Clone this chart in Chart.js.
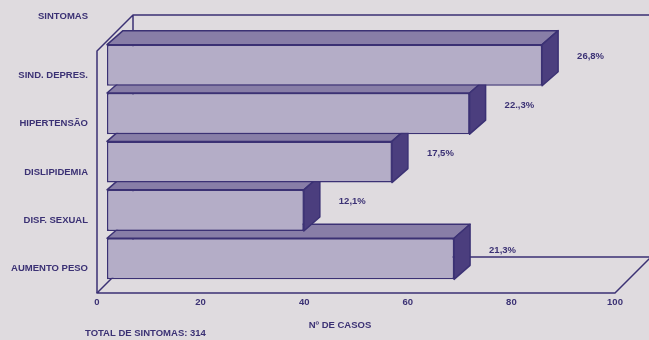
<!DOCTYPE html>
<html>
<head>
<meta charset="utf-8">
<script src="https://cdn.jsdelivr.net/npm/chart.js@4.4.1/dist/chart.umd.min.js"></script>
<style>
  html, body { margin: 0; padding: 0; background: #dfdbdf; }
  #wrap { width: 649px; height: 340px; position: relative; }
</style>
</head>
<body>
<div id="wrap"><canvas id="sintomasChart"></canvas></div>
<script>
const categories = ['SIND. DEPRES.', 'HIPERTENSÃO', 'DISLIPIDEMIA', 'DISF. SEXUAL', 'AUMENTO PESO'];
const casos = [84, 70, 55, 38, 67];
const percentLabels = ['26,8%', '22.,3%', '17,5%', '12,1%', '21,3%'];
const xTicks = [0, 20, 40, 60, 80, 100];

const ink = '#3b3174';
const frontColor = '#b4adc7';
const topColor = '#887ea7';
const sideColor = '#4b3e7e';
const font = { family: "'Liberation Sans', Arial, sans-serif", size: 9.5, weight: 'bold' };

const barDepth = { x: 16, y: -14 };  // how far each bar goes back
const boxDepth = { x: 36, y: -36 };  // how far the floor / walls go back
const boxShift = 10;                 // front of the box sits left of and below the bars

// floor, left wall and back wall outlines, drawn behind the bars
const box3d = {
    id: 'box3d',
    beforeDatasetsDraw(chart) {
        const { ctx, chartArea: a } = chart;
        const x0 = a.left - boxShift, x1 = a.right - boxShift;
        const yb = a.bottom + boxShift, yt = a.top + boxShift;
        const bx0 = x0 + boxDepth.x, bx1 = x1 + boxDepth.x;
        const byb = yb + boxDepth.y, byt = yt + boxDepth.y;

        ctx.save();
        ctx.strokeStyle = ink;
        ctx.lineWidth = 1.5;
        ctx.lineJoin = 'round';

        // left wall + back wall top
        ctx.beginPath();
        ctx.moveTo(x0, yb);
        ctx.lineTo(x0, yt);
        ctx.lineTo(bx0, byt);
        ctx.lineTo(chart.width + 5, byt);
        ctx.moveTo(bx0, byt);
        ctx.lineTo(bx0, byb);
        ctx.stroke();

        // floor
        ctx.beginPath();
        ctx.moveTo(x0, yb);
        ctx.lineTo(x1, yb);
        ctx.lineTo(bx1, byb);
        ctx.lineTo(bx0, byb);
        ctx.closePath();
        ctx.stroke();
        ctx.restore();
    },
    // bars drawn bottom-up so the upper bars cover the top faces of the lower ones
    beforeDatasetDraw(chart, args) {
        const { ctx } = chart;
        const bars = args.meta.data;
        for (let i = bars.length - 1; i >= 0; i--) {
            const bar = bars[i];
            const { x, y, base, height } = bar.getProps(['x', 'y', 'base', 'height'], true);
            const top = y - height / 2, bottom = y + height / 2;

            ctx.save();
            ctx.strokeStyle = ink;
            ctx.lineWidth = 1.5;
            ctx.lineJoin = 'round';

            ctx.beginPath();
            ctx.moveTo(base, top);
            ctx.lineTo(base + barDepth.x, top + barDepth.y);
            ctx.lineTo(x + barDepth.x, top + barDepth.y);
            ctx.lineTo(x, top);
            ctx.closePath();
            ctx.fillStyle = topColor;
            ctx.fill();
            ctx.stroke();

            ctx.beginPath();
            ctx.moveTo(x, top);
            ctx.lineTo(x + barDepth.x, top + barDepth.y);
            ctx.lineTo(x + barDepth.x, bottom + barDepth.y);
            ctx.lineTo(x, bottom);
            ctx.closePath();
            ctx.fillStyle = sideColor;
            ctx.fill();
            ctx.stroke();
            ctx.restore();

            bar.draw(ctx);
        }
        return false;
    },
    afterDatasetsDraw(chart) {
        const { ctx, chartArea: a } = chart;
        const bars = chart.getDatasetMeta(0).data;
        ctx.save();
        ctx.fillStyle = ink;
        ctx.font = `${font.weight} ${font.size}px ${font.family}`;
        ctx.textBaseline = 'middle';

        ctx.textAlign = 'left';
        bars.forEach((bar, i) => {
            const { x, y, height } = bar.getProps(['x', 'y', 'height'], true);
            ctx.fillText(percentLabels[i], x + 35, y - height / 2 + 12);
        });

        ctx.textAlign = 'right';
        ctx.fillText('SINTOMAS', a.left - 19, a.top - 25);

        ctx.textAlign = 'center';
        const x0 = a.left - boxShift, x1 = a.right - boxShift;
        ctx.fillText('Nº DE CASOS', (x0 + x1) / 2 - 16, a.bottom + 42);

        const total = casos.reduce((s, v) => s + v, 0);
        ctx.textAlign = 'left';
        ctx.fillText('TOTAL DE SINTOMAS: ' + total, a.left - 22, a.bottom + 50);
        ctx.restore();
    }
};

new Chart(document.getElementById('sintomasChart'), {
    type: 'bar',
    data: {
        labels: categories,
        datasets: [{
            data: casos,
            backgroundColor: frontColor,
            borderColor: ink,
            borderWidth: 1.5,
            borderSkipped: false,
            barPercentage: 0.85,
            categoryPercentage: 1
        }]
    },
    options: {
        indexAxis: 'y',
        responsive: true,
        maintainAspectRatio: false,
        animation: false,
        layout: { padding: { top: 41, right: 24, left: 0, bottom: 0 } },
        plugins: {
            legend: { display: false },
            tooltip: { enabled: false }
        },
        scales: {
            x: {
                min: 0,
                max: 100,
                afterBuildTicks(scale) { scale.ticks = xTicks.map(v => ({ value: v })); },
                afterFit(scale) { scale.height = 57; },
                ticks: { color: ink, font: font, padding: 14, labelOffset: -10, maxRotation: 0 },
                grid: { display: false, drawTicks: false },
                border: { display: false }
            },
            y: {
                afterFit(scale) { scale.width = 107; },
                ticks: { color: ink, font: font, padding: 19, labelOffset: 10 },
                grid: { display: false, drawTicks: false },
                border: { display: false }
            }
        }
    },
    plugins: [box3d]
});
</script>
</body>
</html>
